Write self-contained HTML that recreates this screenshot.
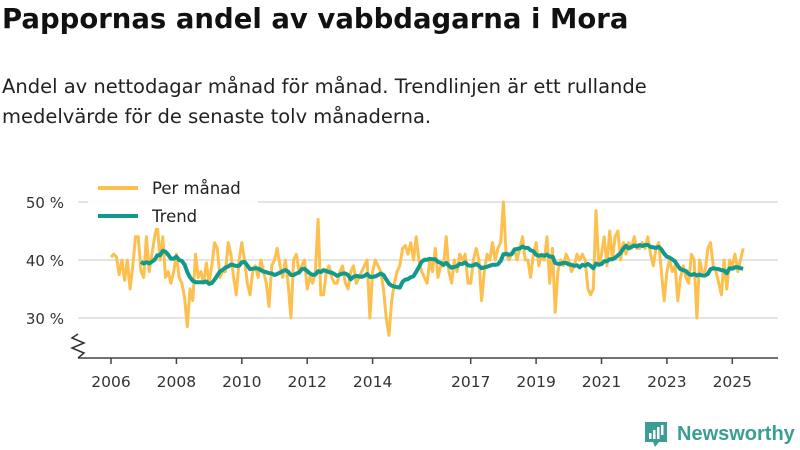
<!DOCTYPE html>
<html><head><meta charset="utf-8"><style>
body{margin:0;background:#fff;font-family:"DejaVu Sans","Liberation Sans",sans-serif;}
#wrap{position:relative;width:800px;height:450px;overflow:hidden;}
h1{position:absolute;left:2px;top:3px;margin:0;font-size:27.5px;font-weight:bold;color:#111;}
p{position:absolute;left:2px;top:72px;margin:0;font-size:19.5px;line-height:30px;color:#222;width:740px;}
</style></head><body>
<div id="wrap">
<h1>Pappornas andel av vabbdagarna i Mora</h1>
<p>Andel av nettodagar månad för månad. Trendlinjen är ett rullande medelvärde för de senaste tolv månaderna.</p>
<svg id="chart" width="800" height="450" style="position:absolute;left:0;top:0"></svg>
</div>
<script>
const startYear = 2006;
const monthly = [
40.5,41,40.5,37.5,40,36.5,40,35,39,44,44,38,
37,44,38,41,44,46,40,44,37,38,36,38,
41,37,36,33.5,28.5,35,33,41,37,38,36,39.5,
36,39,43,42,37,38,38,43,41,37,34,40,
43,40,36,34,38,39,37,40,38,36,32,39,
40,42,39,37,40,36,30,40,41,38,39,40,
35,37,36,38,47,34,34,38,39,37,36,36,
38,39,36,35,38,39,36,37,38,39,40,30,
38,40,39,38,35,30,27,33,36,38,39,42,
42.5,41,43,40,44,40,38,37,36,40,38,42,
37,39,39,44,38,36,40,38,41,40,41,36,
36,40,42,40,33,38,41,40,43,40,42,43,
50,41,40,41,42,40,42,44,40,40,37,41,
43,39,41,40,44,36,42,31,38,40,39,41,
40,38,39,41,40,41,40,35,34,35,48.5,39,
41,44,39,45,40,44,45,40,43,41,43,42,
44,42,42,43,42,44,41,39,42,43,38,33,
38,40,38,39,33,37,39,37,36,41,40,30,
40,38,38,42,43,39,38,36,34,40,35,40,
39,41,38,40,42];
const xTicks = [2006,2008,2010,2012,2014,2017,2019,2021,2023,2025];
const yTicks = [30,40,50];

const svg = document.getElementById('chart');
const NS = 'http://www.w3.org/2000/svg';
const x = t => 111 + (t - 2006) * 32.7;
const y = v => 260 - (v - 40) * 5.8;
function mk(tag, attrs, parent){const e=document.createElementNS(NS,tag);for(const k in attrs)e.setAttribute(k,attrs[k]);(parent||svg).appendChild(e);return e;}

yTicks.forEach(v=>{
  const g = mk('line',{x1:78,x2:778,y1:y(v),y2:y(v),stroke:'#dcdcdc','stroke-width':1.5});
  
  
  const t = mk('text',{x:64,y:y(v)+6,'text-anchor':'end','font-size':15,fill:'#333'});
  t.textContent = v + ' %';
  
  
});
const ax = mk('line',{x1:78,x2:778,y1:358,y2:358,stroke:'#444','stroke-width':1.5});


const zz = mk('polyline',{points:'78,334 72,338 84,343 72,348 84,353 78,358',fill:'none',stroke:'#333','stroke-width':1.5});


xTicks.forEach(yr=>{
  const l = mk('line',{x1:x(yr),x2:x(yr),y1:358,y2:364,stroke:'#444','stroke-width':1.5});
  
  
  const t = mk('text',{x:x(yr),y:387,'text-anchor':'middle','font-size':15.5,fill:'#333'});
  t.textContent = yr;
  
  
});

const tOf = i => startYear + i/12;
const mPts = monthly.map((v,i)=>x(tOf(i)).toFixed(1)+','+y(v).toFixed(1)).join(' ');
const ml = mk('polyline',{points:mPts,fill:'none',stroke:'#fdc04f','stroke-width':3,'stroke-linejoin':'round'});


const tr = [];
for(let i=11;i<monthly.length;i++){let s=0;for(let j=i-11;j<=i;j++)s+=monthly[j];tr.push(x(tOf(i)).toFixed(1)+','+y(s/12).toFixed(1));}
const tl = mk('polyline',{points:tr.join(' '),fill:'none',stroke:'#11998e','stroke-width':4,'stroke-linejoin':'round'});



const lg = mk('rect',{x:88,y:176,width:170,height:52,fill:'#fff','fill-opacity':0.9});


[['Per månad','#fdc04f',188],['Trend','#11998e',216]].forEach(([n,c,yy])=>{
  const l = mk('line',{x1:98,x2:138,y1:yy,y2:yy,stroke:c,'stroke-width':4});
  
  
  const t = mk('text',{x:152,y:yy+6,'font-size':16.5,fill:'#222'});
  t.textContent = n;
  
  
});

const logo = mk('g',{});


mk('path',{d:'M645 422 h22 v20 h-8 l-4 5 l-2 -5 h-8 z',fill:'#3a9e94'},logo);
mk('rect',{x:649,y:433,width:2.5,height:6,fill:'#fff'},logo);
mk('rect',{x:653,y:430,width:2.5,height:9,fill:'#fff'},logo);
mk('rect',{x:657,y:427,width:2.5,height:12,fill:'#fff'},logo);
mk('rect',{x:661,y:425,width:2.5,height:10,fill:'#fff'},logo);
const lt = mk('text',{x:677,y:440,'font-size':20,'font-weight':'bold','font-family':'Liberation Sans, sans-serif',fill:'#3a9e94'},logo);
lt.textContent = 'Newsworthy';
</script>
</body></html>
